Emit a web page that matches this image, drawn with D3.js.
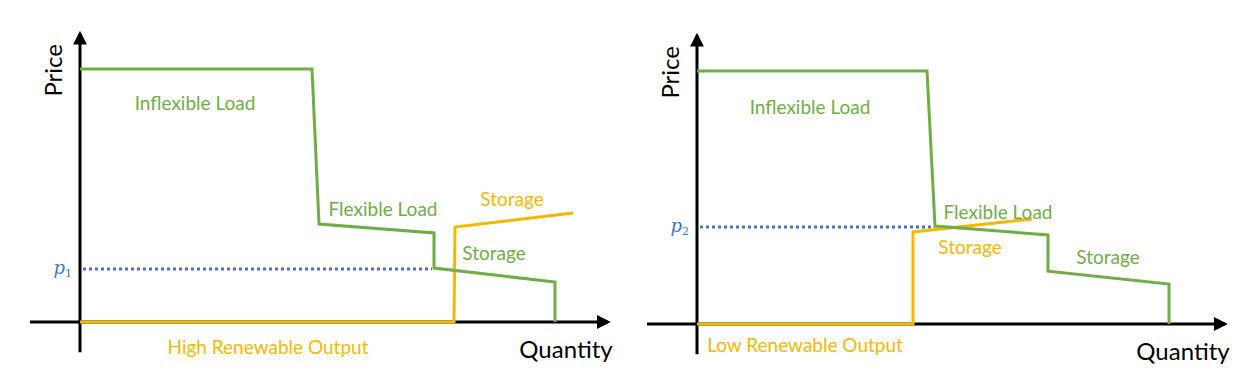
<!DOCTYPE html>
<html>
<head>
<meta charset="utf-8">
<script src="https://cdn.jsdelivr.net/npm/d3@7"></script>
<style>
  body { margin: 0; background: #fff; }
  text { font-family: Lato, "Open Sans", sans-serif; }
</style>
</head>
<body>
<svg id="chart" width="1245" height="382"></svg>
<script>
// quantity / price in arbitrary units (0-100), one set per panel
var panels = ["high", "low"];

// demand curve (green)
var loadHighQ = [0, 46.4, 47.8, 70.8, 70.8, 95, 95];
var loadHighP = [100, 100, 38.7, 35.2, 21.3, 15.8, 0];
var loadLowQ = [0, 46, 47.6, 70.2, 70.2, 94.4, 94.4];
var loadLowP = [100, 100, 38.7, 35.2, 20.9, 15.8, 0];

// supply curve (orange)
var supplyHighQ = [0, 74.8, 75, 98.6];
var supplyHighP = [0, 0, 37.5, 43.1];
var supplyLowQ = [0, 43.2, 43.2, 67];
var supplyLowP = [0, 0, 36.4, 41.5];

// clearing price (dotted)
var clearPrice = [20.9, 38.3];
var clearQty = [70.4, 47.6];
var priceNames = ["1", "2"];

var renewableLabels = ["High Renewable Output", "Low Renewable Output"];

// axis extents
var xAxisExt = [-10, 105.6];
var yAxisExt = [-12, 114];

var green = "#70ad47", orange = "#f5b800", blue = "#4472c4";

var svg = d3.select("#chart");

var defs = svg.append("defs");
defs.append("marker")
    .attr("id", "arrow")
    .attr("viewBox", "0 0 10 10")
    .attr("refX", 8).attr("refY", 5)
    .attr("markerWidth", 4.6).attr("markerHeight", 4.6)
    .attr("markerUnits", "strokeWidth")
    .attr("orient", "auto")
  .append("path")
    .attr("d", "M0,0 L10,5 L0,10 Z")
    .attr("fill", "#000");

var origins = [{x: 80, y: 322}, {x: 697, y: 324}];

panels.forEach(function(p, i) {
    var o = origins[i];
    var x = d3.scaleLinear().domain([0, 100]).range([o.x, o.x + 500]);
    var y = d3.scaleLinear().domain([0, 100]).range([o.y, o.y - 253]);

    var g = svg.append("g");

    var lq = i == 0 ? loadHighQ : loadLowQ;
    var lp = i == 0 ? loadHighP : loadLowP;
    var sq = i == 0 ? supplyHighQ : supplyLowQ;
    var sp = i == 0 ? supplyHighP : supplyLowP;

    var line = d3.line().x(d => x(d[0])).y(d => y(d[1]));

    // axes
    g.append("line")
        .attr("x1", x(xAxisExt[0])).attr("x2", x(xAxisExt[1]))
        .attr("y1", y(0)).attr("y2", y(0))
        .attr("stroke", "#000").attr("stroke-width", 3)
        .attr("marker-end", "url(#arrow)");
    g.append("line")
        .attr("x1", x(0)).attr("x2", x(0))
        .attr("y1", y(yAxisExt[0])).attr("y2", y(yAxisExt[1]))
        .attr("stroke", "#000").attr("stroke-width", 3)
        .attr("marker-end", "url(#arrow)");

    // dotted clearing price
    g.append("line")
        .attr("x1", x(0.6)).attr("x2", x(clearQty[i]))
        .attr("y1", y(clearPrice[i])).attr("y2", y(clearPrice[i]))
        .attr("stroke", blue).attr("stroke-width", 3)
        .attr("stroke-dasharray", "3,3");

    // supply
    g.append("path")
        .datum(d3.zip(sq, sp))
        .attr("fill", "none")
        .attr("stroke", orange)
        .attr("stroke-width", 3)
        .attr("d", line);

    // load
    g.append("path")
        .datum(d3.zip(lq, lp))
        .attr("fill", "none")
        .attr("stroke", green)
        .attr("stroke-width", 3)
        .attr("d", line);

    // labels [q, p, text, color]
    var labels = i == 0 ? [
        [23, 86.6, "Inflexible Load", green],
        [60.6, 44.7, "Flexible Load", green],
        [86.4, 49, "Storage", orange],
        [82.8, 27.3, "Storage", green],
        [37.6, -9.5, renewableLabels[i], orange]
    ] : [
        [22.6, 85.8, "Inflexible Load", green],
        [60.2, 44.3, "Flexible Load", green],
        [54.6, 30.8, "Storage", orange],
        [82.2, 26.5, "Storage", green],
        [21.6, -8.3, renewableLabels[i], orange]
    ];

    g.selectAll(".lbl")
        .data(labels)
        .enter().append("text")
        .attr("x", d => x(d[0]))
        .attr("y", d => y(d[1]))
        .attr("text-anchor", "middle")
        .attr("dominant-baseline", "central")
        .style("font-size", "19px")
        .style("fill", d => d[3])
        .text(d => d[2]);

    g.append("text")
        .attr("x", x(97.2))
        .attr("y", y(-10.3))
        .attr("text-anchor", "middle")
        .attr("dominant-baseline", "central")
        .style("font-size", "24px")
        .style("fill", "#000")
        .text("Quantity");

    g.append("text")
        .attr("transform", "translate(" + (x(-3.6)) + "," + y(99.5) + ") rotate(-90)")
        .attr("text-anchor", "middle")
        .style("font-size", "24px")
        .style("fill", "#000")
        .text("Price");

    var pl = g.append("text")
        .attr("x", x(-1.6))
        .attr("y", y(clearPrice[i]) + 5)
        .attr("text-anchor", "end")
        .style("font-family", "'DejaVu Serif', serif")
        .style("font-style", "italic")
        .style("font-size", "18px")
        .style("fill", blue);
    pl.append("tspan").text("p");
    pl.append("tspan")
        .attr("dy", 3)
        .style("font-style", "normal")
        .style("font-size", "11px")
        .text(priceNames[i]);
});
</script>
</body>
</html>
